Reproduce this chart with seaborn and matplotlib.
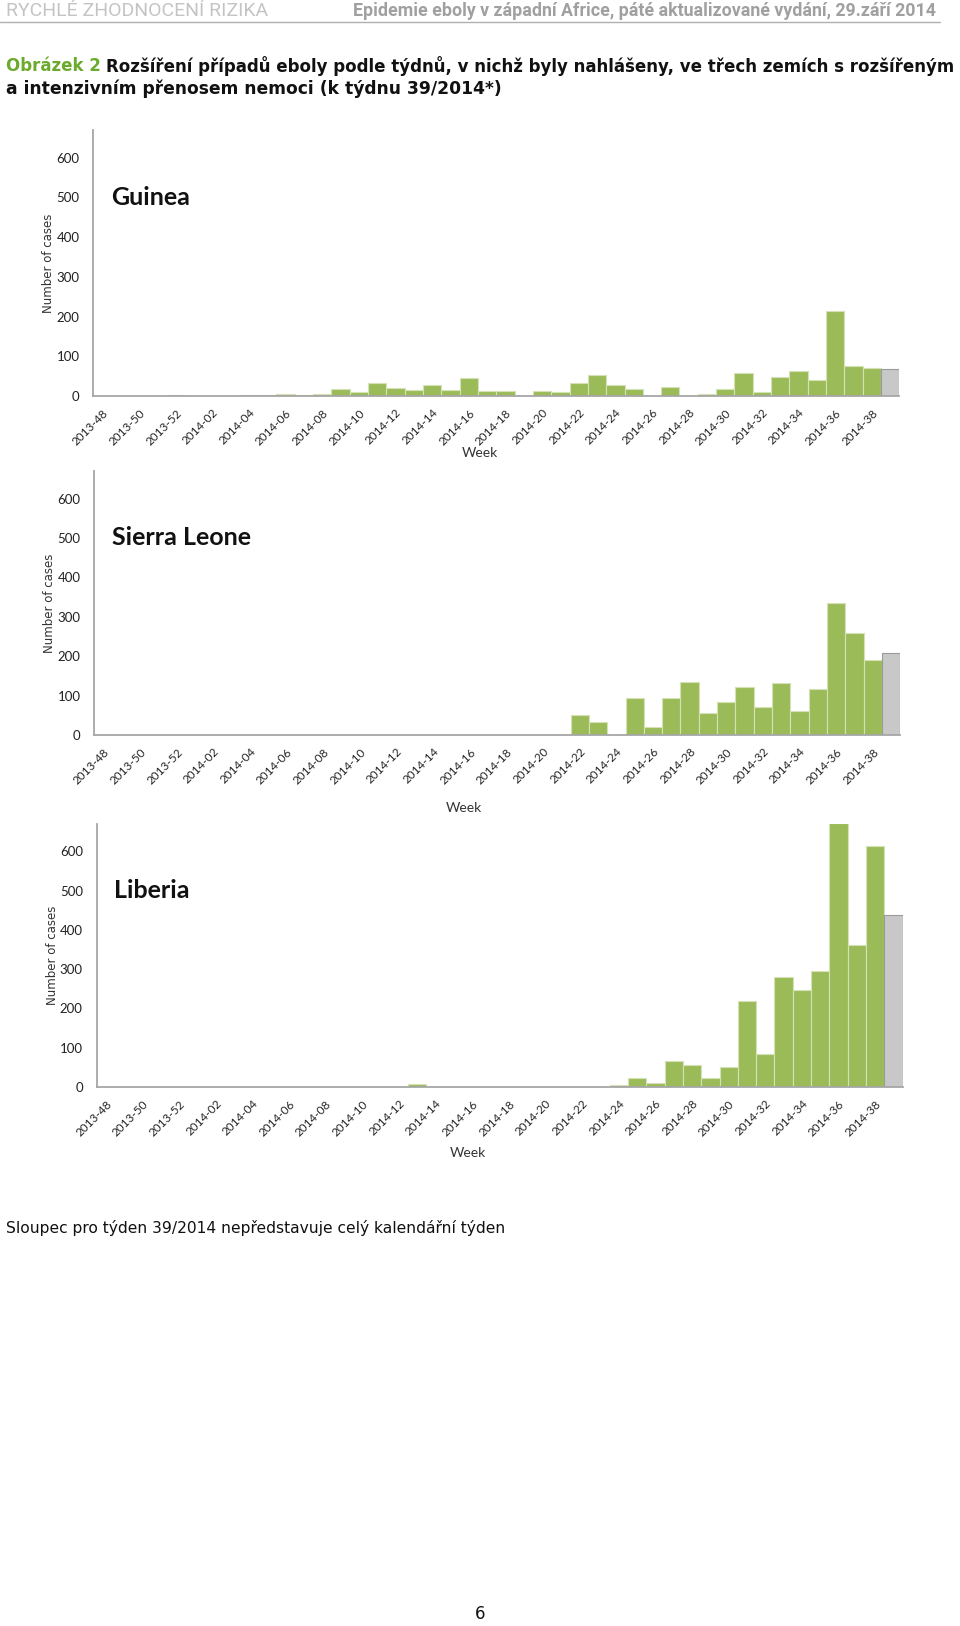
import numpy as np
import pandas as pd
import seaborn as sns
import matplotlib.pyplot as plt

# week categories 2013-48 .. 2014-39 (last one is a partial week)
weeks = [f'2013-{w}' for w in range(48, 53)] + [f'2014-{w:02d}' for w in range(1, 40)]

guinea_cases = [0, 0, 0, 0, 3, 0, 0, 0, 3, 3, 5, 3, 5, 18, 10, 33, 19, 16, 28, 16, 45, 13,
                13, 0, 13, 10, 33, 52, 28, 18, 0, 22, 1, 4, 17, 58, 9, 48, 64, 41, 215, 75,
                71, 67]
sierra_leone_cases = [0, 0, 0, 0, 0, 0, 0, 0, 0, 0, 0, 0, 0, 0, 0, 0, 0, 0, 0, 0, 0, 0,
                      0, 0, 0, 0, 51, 32, 1, 93, 21, 94, 135, 56, 83, 121, 70, 131, 62, 116,
                      335, 258, 191, 207]
liberia_cases = [0, 0, 0, 0, 0, 0, 0, 0, 0, 0, 0, 0, 0, 0, 0, 0, 0, 7, 0, 0, 0, 0,
                 0, 0, 0, 0, 0, 0, 5, 23, 10, 65, 57, 24, 52, 220, 85, 279, 248, 296,
                 672, 362, 614, 437]

countries = ['Guinea', 'Sierra Leone', 'Liberia']
GREEN = '#9BBB59'
GREY = '#C8C8C8'
AXIS = '#A6A6A6'

sns.set_style('white')
plt.rcParams['font.family'] = ['Lato', 'DejaVu Sans']


def plot_country(fig, rect, name, cases, week_y, week_x):
    ax = fig.add_axes(rect)
    df = pd.DataFrame({'week': weeks, 'cases': cases})
    palette = [GREEN] * (len(weeks) - 1) + [GREY]
    sns.barplot(data=df, x='week', y='cases', hue='week', palette=palette,
                legend=False, width=1.0, ax=ax, saturation=1)
    for i, p in enumerate(ax.patches):
        if i == len(weeks) - 1:
            p.set_edgecolor('#9A9A9A')
        else:
            p.set_edgecolor('#D4E2B6')
        p.set_linewidth(0.8)
    ax.set_xlim(-0.5, len(weeks) - 0.5)
    ax.set_ylim(0, 670)
    ax.set_yticks(range(0, 601, 100))
    ax.tick_params(axis='y', labelsize=9.5, colors='#222222', length=4, width=1, color=AXIS, pad=6)
    ax.set_xticks(np.arange(-0.5, len(weeks), 1))
    ax.set_xticklabels([])
    ax.set_xticks(np.arange(0, len(weeks) - 1, 2), minor=True)
    ax.set_xticklabels(weeks[0:len(weeks) - 1:2], minor=True, rotation=45,
                       ha='right', rotation_mode='anchor', fontsize=8.5, color='#222222')
    ax.tick_params(axis='x', which='major', length=4, width=1, color=AXIS, direction='out')
    ax.tick_params(axis='x', which='minor', length=0, pad=8)
    for s in ['top', 'right']:
        ax.spines[s].set_visible(False)
    for s in ['left', 'bottom']:
        ax.spines[s].set_color(AXIS)
        ax.spines[s].set_linewidth(1.3)
    ax.set_ylabel('Number of cases', family='DejaVu Sans', fontsize=8.5, color='#333333')
    ax.yaxis.set_label_coords(-0.047, 0.5)
    ax.set_xlabel('Week', fontsize=10, color='#333333')
    ax.xaxis.set_label_coords(week_x, week_y)
    ax.text(0.022, 500, name, transform=ax.get_yaxis_transform(), fontsize=18,
            fontweight='bold', va='center', ha='left', color='#111111')
    return ax


fig = plt.figure(figsize=(9.6, 16.26), dpi=100)

plot_country(fig, [93.3 / 960, 1 - 396 / 1626, 806 / 960, 266 / 1626],
             countries[0], guinea_cases, -0.19, 0.48)
plot_country(fig, [94.3 / 960, 1 - 735 / 1626, 806 / 960, 264 / 1626],
             countries[1], sierra_leone_cases, -0.255, 0.459)
plot_country(fig, [96.7 / 960, 1 - 1087 / 1626, 806 / 960, 263 / 1626],
             countries[2], liberia_cases, -0.228, 0.46)

# page header
fig.text(6 / 960, 1 - 11 / 1626, 'RYCHLÉ ZHODNOCENÍ RIZIKA', fontsize=14,
         family='Roboto', color='#C4C4C4', va='center')
fig.text(936 / 960, 1 - 11 / 1626,
         'Epidemie eboly v západní Africe, páté aktualizované vydání, 29.září 2014',
         fontsize=12.8, fontweight='bold', family='Roboto',
         color='#A0A0A0', va='center', ha='right')
fig.add_artist(plt.Line2D([0, 940 / 960], [1 - 22 / 1626, 1 - 22 / 1626],
                          color='#B0B0B0', lw=1))

# figure title
title_l1 = 'Rozšíření případů eboly podle týdnů, v nichž byly nahlášeny, ve třech zemích s rozšířeným'
t = fig.text(6 / 960, 1 - 66 / 1626, 'Obrázek 2', fontsize=12, fontweight='bold',
             family='DejaVu Sans', color='#6BAA2C', va='center')
fig.canvas.draw()
bb = t.get_window_extent()
fig.text((bb.x1 + 5) / 960, 1 - 66 / 1626, title_l1, fontsize=12, fontweight='bold',
         family='DejaVu Sans', color='#111111', va='center')
fig.text(6 / 960, 1 - 89 / 1626, 'a intenzivním přenosem nemoci (k týdnu 39/2014*)',
         fontsize=12.3, fontweight='bold', family='DejaVu Sans', color='#111111', va='center')

fig.text(6 / 960, 1 - 1228 / 1626,
         'Sloupec pro týden 39/2014 nepředstavuje celý kalendářní týden',
         fontsize=11.2, family='DejaVu Sans', color='#111111', va='center')
fig.text(480 / 960, 1 - 1614 / 1626, '6', fontsize=12, family='DejaVu Sans',
         color='#111111', va='center', ha='center')

fig.savefig('out.png', dpi=100)
